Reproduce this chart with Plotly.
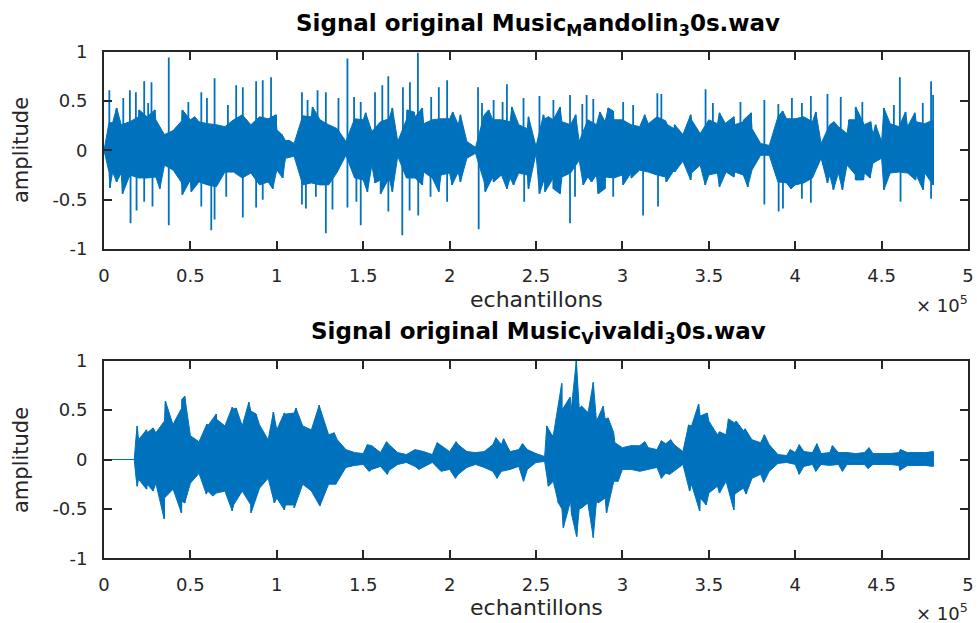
import plotly.graph_objects as go

BLUE = "#0072BD"
AXIS = "#262626"
FONT = "DejaVu Sans"
W, H = 977, 623

# ---- tick definitions (sample axis shown in units of 10^5) ----
x_tick_vals = [0, 50000, 100000, 150000, 200000, 250000, 300000, 350000, 400000, 450000, 500000]
x_tick_text = ["0", "0.5", "1", "1.5", "2", "2.5", "3", "3.5", "4", "4.5", "5"]
y_tick_vals = [-1, -0.5, 0, 0.5, 1]
y_tick_text = ["-1", "-0.5", "0", "0.5", "1"]

# ---- Music_Mandolin_30s.wav : dense body envelope (upper / lower) ----
mandolin_env_pos = [0, 2900] + list(range(5000, 480001, 5000))
mandolin_env_hi = [
    0.0, 0.28,
    0.28, 0.26, 0.29, 0.34, 0.34, 0.31, 0.16, 0.20, 0.30, 0.31,
    0.29, 0.27, 0.26, 0.24, 0.31, 0.36, 0.26, 0.34, 0.32, 0.21,
    0.10, 0.07, 0.35, 0.34, 0.31, 0.26, 0.22, 0.09, 0.32, 0.31,
    0.19, 0.29, 0.32, 0.09, 0.31, 0.34, 0.27, 0.31, 0.32, 0.32,
    0.26, 0.09, 0.03, 0.36, 0.31, 0.31, 0.29, 0.26, 0.22, 0.04,
    0.32, 0.31, 0.29, 0.26, 0.09, 0.31, 0.26, 0.29, 0.31, 0.31,
    0.26, 0.24, 0.27, 0.34, 0.30, 0.22, 0.16, 0.31, 0.17, 0.31,
    0.27, 0.26, 0.26, 0.29, 0.22, 0.07, 0.05, 0.34, 0.32, 0.32,
    0.34, 0.29, 0.07, 0.26, 0.24, 0.17, 0.31, 0.26, 0.16, 0.09,
    0.27, 0.24, 0.24, 0.29, 0.27, 0.31,
]
mandolin_env_lo = [
    0.0, -0.22,
    -0.22, -0.23, -0.25, -0.28, -0.28, -0.27, -0.15, -0.20, -0.33, -0.30,
    -0.32, -0.35, -0.37, -0.22, -0.22, -0.28, -0.23, -0.35, -0.32, -0.20,
    -0.08, -0.06, -0.35, -0.33, -0.35, -0.35, -0.22, -0.05, -0.28, -0.30,
    -0.15, -0.30, -0.28, -0.06, -0.28, -0.28, -0.22, -0.28, -0.25, -0.23,
    -0.22, -0.08, -0.03, -0.32, -0.27, -0.25, -0.28, -0.23, -0.25, -0.03,
    -0.28, -0.28, -0.27, -0.23, -0.10, -0.27, -0.25, -0.27, -0.28, -0.25,
    -0.23, -0.20, -0.22, -0.25, -0.27, -0.20, -0.11, -0.23, -0.15, -0.25,
    -0.23, -0.22, -0.22, -0.25, -0.20, -0.05, -0.05, -0.32, -0.33, -0.35,
    -0.33, -0.28, -0.08, -0.25, -0.23, -0.15, -0.25, -0.23, -0.13, -0.08,
    -0.23, -0.22, -0.23, -0.25, -0.23, -0.27,
]

# ---- Mandolin: individual note attacks (positive and negative peaks) ----
mandolin_up_pos = [
    3080, 7300, 11150, 14990, 18450, 20370, 23260, 25560, 27480, 29400,
    37480, 45360, 48820, 52470, 56310, 59580, 63990, 71690, 76500, 80340,
    88030, 91870, 96680, 99560, 103000, 107250, 114550, 117800, 120700, 123580,
    128390, 135690, 140880, 144720, 148570, 151450, 156830, 161060, 164520, 166860,
    173000, 175510, 177040, 179350, 181660, 184160, 189340, 193760, 198570, 201840,
    206260, 216450, 218750, 222600, 225480, 230670, 233170, 236050, 242780, 245660,
    252000, 254310, 257190, 260070, 263920, 269680, 272950, 276800, 279290, 283140,
    286980, 291790, 294670, 300440, 306200, 312930, 320230, 322540, 326030, 330260,
    339490, 348130, 352360, 356210, 360050, 364470, 368320, 370240, 374470, 382150,
    390230, 392730, 398100, 403880, 409060, 411950, 418670, 422520, 426360, 431170,
    435010, 438850, 443660, 446540, 451350, 457110, 460570, 463840, 469220, 473830,
    478640, 479800,
]
mandolin_up_val = [
    0.61, 0.43, 0.53, 0.61, 0.59, 0.41, 0.70, 0.48, 0.69, 0.41,
    0.94, 0.41, 0.49, 0.34, 0.59, 0.53, 0.73, 0.46, 0.66, 0.64,
    0.70, 0.71, 0.74, 0.36, 0.16, 0.10, 0.59, 0.51, 0.44, 0.61,
    0.59, 0.53, 0.93, 0.54, 0.49, 0.38, 0.59, 0.66, 0.75, 0.43,
    0.64, 0.41, 0.69, 0.39, 0.99, 0.43, 0.54, 0.64, 0.71, 0.39,
    0.36, 0.64, 0.48, 0.41, 0.51, 0.49, 0.67, 0.44, 0.53, 0.34,
    0.55, 0.36, 0.34, 0.51, 0.44, 0.56, 0.36, 0.47, 0.56, 0.52,
    0.39, 0.43, 0.40, 0.49, 0.46, 0.36, 0.58, 0.57, 0.26, 0.26,
    0.36, 0.62, 0.48, 0.38, 0.28, 0.34, 0.49, 0.31, 0.38, 0.51,
    0.47, 0.40, 0.53, 0.48, 0.55, 0.39, 0.57, 0.29, 0.54, 0.31,
    0.44, 0.49, 0.29, 0.26, 0.43, 0.46, 0.74, 0.39, 0.38, 0.48,
    0.70, 0.56,
]
mandolin_dn_pos = [
    3460, 7300, 10760, 15370, 18840, 23260, 28060, 32290, 37480, 45360,
    50550, 56310, 62080, 63990, 70730, 80340, 88030, 91870, 97640, 103400,
    114550, 116860, 122630, 128390, 132230, 140880, 146070, 148570, 152410, 156830,
    160130, 164550, 166860, 172620, 176850, 181850, 184160, 188960, 193760, 198570,
    201450, 206260, 216830, 220670, 225480, 233170, 237010, 243160, 245660, 252000,
    255270, 260070, 263920, 269680, 272570, 277370, 282180, 286020, 289870, 294670,
    300440, 305240, 311970, 320620, 325450, 330260, 339490, 347940, 356210, 364470,
    372540, 382150, 390420, 392920, 397530, 403870, 409060, 418670, 422130, 427320,
    435010, 439430, 443270, 451350, 460960, 469610, 474030, 478640, 479800,
]
mandolin_dn_val = [
    -0.38, -0.32, -0.44, -0.74, -0.61, -0.52, -0.57, -0.39, -0.76, -0.45,
    -0.42, -0.57, -0.81, -0.70, -0.47, -0.68, -0.58, -0.50, -0.39, -0.28,
    -0.55, -0.59, -0.47, -0.84, -0.60, -0.58, -0.52, -0.76, -0.42, -0.33,
    -0.44, -0.62, -0.42, -0.86, -0.61, -0.66, -0.35, -0.47, -0.42, -0.52,
    -0.35, -0.32, -0.80, -0.42, -0.32, -0.39, -0.35, -0.52, -0.39, -0.44,
    -0.42, -0.39, -0.44, -0.74, -0.47, -0.35, -0.32, -0.44, -0.39, -0.47,
    -0.35, -0.28, -0.66, -0.57, -0.32, -0.22, -0.30, -0.35, -0.37, -0.27,
    -0.37, -0.55, -0.62, -0.59, -0.39, -0.49, -0.53, -0.33, -0.40, -0.40,
    -0.30, -0.30, -0.28, -0.40, -0.52, -0.30, -0.40, -0.49, -0.35,
]

# ---- Music_Vivaldi_30s.wav : dense body envelope ----
vivaldi_env_pos = [0, 17500, 18500] + list(range(20000, 480001, 5000))
vivaldi_env_hi = [
    0.0, 0.0, 0.22,
    0.20, 0.27, 0.27, 0.39, 0.35, 0.52, 0.24,
    0.18, 0.34, 0.41, 0.34, 0.51, 0.34, 0.49, 0.35, 0.20, 0.30,
    0.46, 0.47, 0.34, 0.30, 0.52, 0.25, 0.20, 0.10, 0.07, 0.06,
    0.14, 0.07, 0.15, 0.07, 0.05, 0.10, 0.08, 0.05, 0.14, 0.08,
    0.15, 0.08, 0.07, 0.08, 0.15, 0.15, 0.08, 0.10, 0.10, 0.06,
    0.03, 0.24, 0.50, 0.44, 0.52, 0.46, 0.39, 0.41, 0.27, 0.12,
    0.14, 0.14, 0.12, 0.10, 0.16, 0.15, 0.08, 0.34, 0.44, 0.39,
    0.25, 0.25, 0.37, 0.29, 0.20, 0.17, 0.15, 0.05, 0.04, 0.07,
    0.08, 0.07, 0.06, 0.07, 0.07, 0.07, 0.06, 0.07, 0.06, 0.06,
    0.06, 0.07, 0.07, 0.07, 0.07, 0.08,
]
vivaldi_env_lo = [
    0.0, 0.0, -0.18,
    -0.20, -0.25, -0.24, -0.39, -0.30, -0.42, -0.24,
    -0.14, -0.32, -0.34, -0.32, -0.46, -0.32, -0.46, -0.29, -0.19, -0.39,
    -0.46, -0.46, -0.25, -0.32, -0.46, -0.25, -0.22, -0.08, -0.06, -0.05,
    -0.10, -0.07, -0.11, -0.05, -0.03, -0.07, -0.07, -0.03, -0.12, -0.10,
    -0.15, -0.08, -0.05, -0.08, -0.12, -0.12, -0.10, -0.07, -0.10, -0.03,
    -0.02, -0.22, -0.50, -0.42, -0.50, -0.44, -0.42, -0.39, -0.22, -0.10,
    -0.10, -0.12, -0.10, -0.08, -0.14, -0.12, -0.05, -0.25, -0.39, -0.34,
    -0.27, -0.22, -0.35, -0.29, -0.19, -0.15, -0.12, -0.04, -0.03, -0.05,
    -0.07, -0.05, -0.05, -0.06, -0.05, -0.05, -0.05, -0.05, -0.05, -0.05,
    -0.05, -0.06, -0.06, -0.06, -0.06, -0.07,
]

# ---- Vivaldi: local peaks ----
vivaldi_up_pos = [
    19220, 24600, 28440, 35560, 40940, 45170, 46700, 59580, 64960, 74190,
    76500, 83800, 88030, 98020, 104360, 111090, 124540, 133190, 152410, 163500,
    192810, 203760, 226820, 231250, 242200, 256230, 259110, 264880, 269680, 273340,
    276410, 279290, 283140, 288900, 291790, 295630, 312930, 322540, 327950, 338330,
    344100, 349100, 356210, 361400, 365820, 371010, 382150, 397140, 402340, 412520,
    421560, 442700, 460960,
]
vivaldi_up_val = [
    0.34, 0.30, 0.32, 0.59, 0.39, 0.61, 0.64, 0.36, 0.46, 0.53,
    0.52, 0.58, 0.46, 0.48, 0.47, 0.52, 0.55, 0.27, 0.15, 0.18,
    0.17, 0.18, 0.22, 0.21, 0.16, 0.34, 0.25, 0.77, 0.63, 1.00,
    0.54, 0.49, 0.78, 0.54, 0.42, 0.17, 0.18, 0.19, 0.20, 0.35,
    0.56, 0.47, 0.28, 0.41, 0.39, 0.31, 0.25, 0.10, 0.15, 0.16,
    0.14, 0.12, 0.10,
]
vivaldi_dn_pos = [
    19220, 24600, 28440, 34790, 44780, 46700, 59200, 63040, 74190, 85140,
    98600, 104360, 110130, 124930, 134150, 153370, 163950, 182230, 203380, 227400,
    242780, 257190, 262960, 265840, 270640, 273530, 276410, 283140, 286020, 290830,
    297550, 322570, 327380, 338910, 344680, 348520, 356210, 364470, 371580, 381770,
    402340, 411950, 427320, 442120, 460570,
]
vivaldi_dn_val = [
    -0.27, -0.30, -0.32, -0.60, -0.54, -0.44, -0.35, -0.37, -0.52, -0.54,
    -0.44, -0.51, -0.49, -0.47, -0.25, -0.12, -0.15, -0.10, -0.19, -0.19,
    -0.22, -0.27, -0.44, -0.69, -0.56, -0.78, -0.49, -0.79, -0.44, -0.54,
    -0.22, -0.19, -0.15, -0.32, -0.52, -0.46, -0.34, -0.51, -0.35, -0.23,
    -0.15, -0.12, -0.12, -0.09, -0.11,
]


def merged_edge(pos, val, peak_pos, peak_val, limit):
    """Outline of one side of the waveform: body samples plus the peaks that
    stay close to the body (|v| <= limit), in time order."""
    extra = [(p, v) for p, v in zip(peak_pos, peak_val) if abs(v) <= limit]
    pts = sorted(list(zip(pos, val)) + extra)
    return [p for p, _ in pts], [v for _, v in pts]


def body_trace(pos, hi, lo, up_pos, up_val, dn_pos, dn_val, limit, xa, ya):
    """Filled waveform mass between the upper and the lower outline."""
    ux, uy = merged_edge(pos, hi, up_pos, up_val, limit)
    lx, ly = merged_edge(pos, lo, dn_pos, dn_val, limit)
    return go.Scatter(
        x=ux + lx[::-1], y=uy + ly[::-1],
        mode="lines", fill="toself", fillcolor=BLUE,
        line=dict(color=BLUE, width=1),
        xaxis=xa, yaxis=ya, hoverinfo="skip", showlegend=False,
    )


def peaks_trace(up_pos, up_val, dn_pos, dn_val, width, xa, ya):
    """Thin vertical strokes from zero to each attack peak."""
    xs, ys = [], []
    for p, v in list(zip(up_pos, up_val)) + list(zip(dn_pos, dn_val)):
        xs += [p, p, None]
        ys += [0, v, None]
    return go.Scatter(
        x=xs, y=ys, mode="lines",
        line=dict(color=BLUE, width=width),
        xaxis=xa, yaxis=ya, hoverinfo="skip", showlegend=False,
    )


fig = go.Figure()
# mandolin: sharp plucks -> only the small peaks shape the mass, tall ones stay needles
fig.add_trace(body_trace(mandolin_env_pos, mandolin_env_hi, mandolin_env_lo,
                         mandolin_up_pos, mandolin_up_val,
                         mandolin_dn_pos, mandolin_dn_val, 0.45, "x", "y"))
fig.add_trace(peaks_trace(mandolin_up_pos, mandolin_up_val,
                          mandolin_dn_pos, mandolin_dn_val, 1.8, "x", "y"))
# vivaldi: bowed strings -> every peak is part of the outline
fig.add_trace(body_trace(vivaldi_env_pos, vivaldi_env_hi, vivaldi_env_lo,
                         vivaldi_up_pos, vivaldi_up_val,
                         vivaldi_dn_pos, vivaldi_dn_val, 1.0, "x2", "y2"))
fig.add_trace(peaks_trace(vivaldi_up_pos, vivaldi_up_val,
                          vivaldi_dn_pos, vivaldi_dn_val, 1.5, "x2", "y2"))

# plot-area geometry (pixels)
X0, X1 = 104, 968
TOP_Y0, TOP_Y1 = 51.7, 249.0
BOT_Y0, BOT_Y1 = 360.7, 558.3


def xaxis_style(anchor):
    return dict(
        domain=[X0 / W, X1 / W], anchor=anchor, range=[0, 500000], automargin=False,
        tickmode="array", tickvals=x_tick_vals, ticktext=x_tick_text,
        ticks="inside", ticklen=8, tickwidth=1.5, tickcolor=AXIS,
        showline=True, linecolor=AXIS, linewidth=1.8, mirror="ticks",
        showgrid=False, zeroline=False, ticklabelstandoff=9,
        tickfont=dict(family=FONT, size=18, color=AXIS),
    )


def yaxis_style(anchor, y0, y1):
    return dict(
        domain=[1 - y1 / H, 1 - y0 / H], anchor=anchor, range=[-1, 1], automargin=False,
        tickmode="array", tickvals=y_tick_vals, ticktext=y_tick_text,
        ticks="inside", ticklen=8, tickwidth=1.5, tickcolor=AXIS,
        showline=True, linecolor=AXIS, linewidth=1.8, mirror="ticks",
        showgrid=False, zeroline=False, ticklabelstandoff=11,
        tickfont=dict(family=FONT, size=18, color=AXIS),
    )


def text_note(txt, xp, yp, size, bold=False, angle=0, xanchor="center", color="#000000"):
    return dict(
        text=txt, x=xp / W, y=1 - yp / H, xref="paper", yref="paper",
        showarrow=False, xanchor=xanchor, yanchor="middle", textangle=angle,
        font=dict(family=FONT, size=size, color=color,
                  weight="bold" if bold else "normal"),
    )


annotations = [
    text_note("Signal original Music<sub>M</sub>andolin<sub>3</sub>0s.wav", 538, 25, 23, bold=True),
    text_note("Signal original Music<sub>V</sub>ivaldi<sub>3</sub>0s.wav", 538, 333, 23, bold=True),
    text_note("amplitude", 21, 150, 21, angle=-90, color=AXIS),
    text_note("amplitude", 21, 460, 21, angle=-90, color=AXIS),
    text_note("echantillons", 536, 299, 22, color=AXIS),
    text_note("echantillons", 536, 607, 22, color=AXIS),
    text_note("\u00d7 10<sup>5</sup>", 970, 304, 18, xanchor="right", color=AXIS),
    text_note("\u00d7 10<sup>5</sup>", 970, 612, 18, xanchor="right", color=AXIS),
]

fig.update_layout(
    width=W, height=H,
    margin=dict(l=0, r=0, t=0, b=0),
    paper_bgcolor="white", plot_bgcolor="white",
    xaxis=xaxis_style("y"), yaxis=yaxis_style("x", TOP_Y0, TOP_Y1),
    xaxis2=xaxis_style("y2"), yaxis2=yaxis_style("x2", BOT_Y0, BOT_Y1),
    annotations=annotations, showlegend=False,
)

fig.write_html("out.html")
